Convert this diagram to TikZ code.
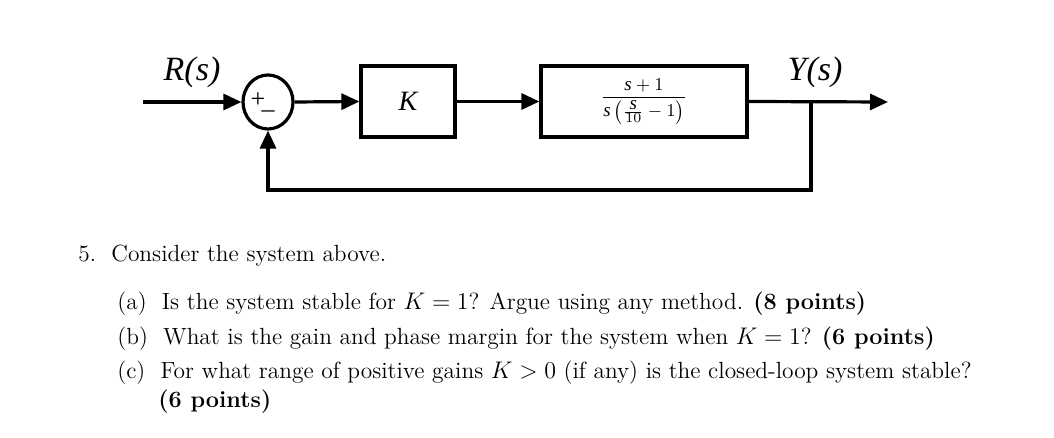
\documentclass[tikz,border=0pt]{standalone}
\usepackage{fontspec}
\newfontfamily\tms{Liberation Serif}
\usetikzlibrary{arrows.meta,shapes.geometric}
\begin{document}
\begin{tikzpicture}[x=0.5pt,y=-0.5pt,
  blk/.style={draw,line width=1.6pt,inner sep=0pt},
  wire/.style={line width=1.6pt},
  arr/.style={wire,-{Triangle[length=9pt,width=8pt]}},
  txt/.style={anchor=base west,inner sep=0pt,font=\fontsize{11.7}{14}\selectfont}]
\useasboundingbox (0,0) rectangle (1054,438);
\coordinate (in) at (143,102);
\node[blk,ellipse,minimum width=25pt,minimum height=27pt] (sum) at (268,102) {};
\node[inner sep=0pt,font=\tms\fontsize{13}{13}\selectfont] (plus) at (258,100) {+};
\node[inner sep=0pt,font=\tms\fontsize{13}{13}\selectfont] (minus) at (268,114) {\textendash};
\node[blk,minimum width=47pt,minimum height=35.5pt] (k) at (408,101.5) {\tms\itshape\fontsize{14}{14}\selectfont K};
\node[blk,minimum width=103pt,minimum height=35.5pt] (g) at (644,101.5) {\tms\fontsize{9.5}{10}\selectfont
  $\displaystyle\frac{\textit{s}+1}{\textit{s}\left(\frac{\textit{s}}{10}-1\right)}$};
\coordinate (out) at (888,102);
\coordinate (br) at (811,102);
\coordinate (bl) at (811,190);
\coordinate (fl) at (268,190);
\node[font=\tms\itshape\fontsize{17}{17}\selectfont] (r) at (192,72) {R(s)};
\node[font=\tms\itshape\fontsize{17}{17}\selectfont] (y) at (815,72) {Y(s)};
\draw[arr] (in) -- (sum.west);
\draw[arr] (sum.east) -- (k.west);
\draw[arr] (k.east) -- (g.west);
\draw[arr] (g.east) -- (out);
\draw[arr] (br) -- (bl) -- (fl) -- (sum.south);
\node[txt] (l0) at (78,262) {5.\ \ Consider the system above.};
\node[txt] (la) at (117,309) {(a)\ \ Is the system stable for $K=1$? Argue using any method. \textbf{(8 points)}};
\node[txt] (lb) at (117,344) {(b)\ \ What is the gain and phase margin for the system when $K=1$? \textbf{(6 points)}};
\node[txt] (lc) at (117,378) {(c)\ \ For what range of positive gains $K>0$ (if any) is the closed-loop system stable?};
\node[txt] (ld) at (158,407) {\textbf{(6 points)}};
\end{tikzpicture}
\end{document}
